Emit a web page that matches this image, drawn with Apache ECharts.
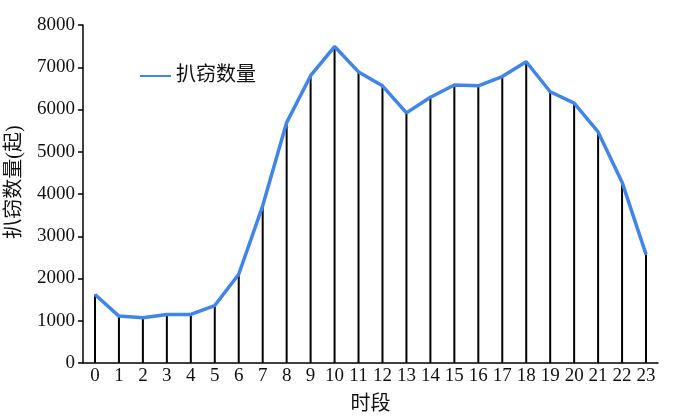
<!DOCTYPE html>
<html>
<head>
<meta charset="utf-8">
<script src="https://cdn.jsdelivr.net/npm/echarts@6/dist/echarts.min.js"></script>
<style>html,body{margin:0;padding:0;background:#fff;}#c{width:691px;height:419px;}</style>
</head>
<body>
<div id="c"></div>
<script>
const categories = ['0','1','2','3','4','5','6','7','8','9','10','11','12','13','14','15','16','17','18','19','20','21','22','23'];
const theftCounts = [1620,1110,1070,1150,1150,1360,2100,3720,5690,6800,7490,6890,6560,5920,6290,6580,6560,6780,7130,6420,6150,5470,4280,2570];
const yTicks = [0,1000,2000,3000,4000,5000,6000,7000,8000];
const seriesName = '扒窃数量';
const yName = '扒窃数量(起)';
const xName = '时段';

const serif = '"Liberation Serif", "Noto Sans CJK SC", serif';
const chart = echarts.init(document.getElementById('c'));
chart.setOption({
  animation: false,
  backgroundColor: '#fff',
  grid: { left: 83, right: 33, top: 25, bottom: 56, containLabel: false, outerBoundsMode: 'none' },
  legend: {
    data: [seriesName],
    left: 135, top: 61,
    itemWidth: 31, itemHeight: 14, itemGap: 8,
    textStyle: { fontFamily: serif, fontSize: 20, color: '#111' },
    icon: 'path://M0,6 L31,6 L31,8 L0,8 Z'
  },
  xAxis: {
    type: 'category',
    data: categories,
    boundaryGap: true,
    name: xName,
    nameLocation: 'middle',
    nameGap: 32,
    nameTextStyle: { fontFamily: serif, fontSize: 20, color: '#111' },
    axisLine: { lineStyle: { color: '#000', width: 1.5 } },
    axisTick: { show: false },
    axisLabel: { fontFamily: serif, fontSize: 19, color: '#111', margin: 4, interval: 0 },
    splitLine: { show: false }
  },
  yAxis: {
    type: 'value',
    min: yTicks[0], max: yTicks[yTicks.length - 1], interval: 1000,
    name: yName,
    nameLocation: 'middle',
    nameGap: 58,
    nameRotate: 90,
    nameTextStyle: { fontFamily: serif, fontSize: 20, color: '#111', padding: [0, 0, 0, 24] },
    axisLine: { show: true, lineStyle: { color: '#000', width: 1.5 } },
    axisTick: { show: true, length: 5, lineStyle: { color: '#000', width: 1.5 } },
    axisLabel: { fontFamily: serif, fontSize: 19, color: '#111', margin: 8, formatter: v => String(v) },
    splitLine: { show: false }
  },
  series: [
    {
      name: 'drop',
      type: 'bar',
      data: theftCounts,
      barWidth: 2,
      itemStyle: { color: '#000' },
      z: 1,
      silent: true
    },
    {
      name: seriesName,
      type: 'line',
      data: theftCounts,
      showSymbol: false,
      symbol: 'none',
      lineStyle: { color: '#3f85ec', width: 3.5 },
      itemStyle: { color: '#3f85ec' },
      z: 3
    }
  ]
});
</script>
</body>
</html>
